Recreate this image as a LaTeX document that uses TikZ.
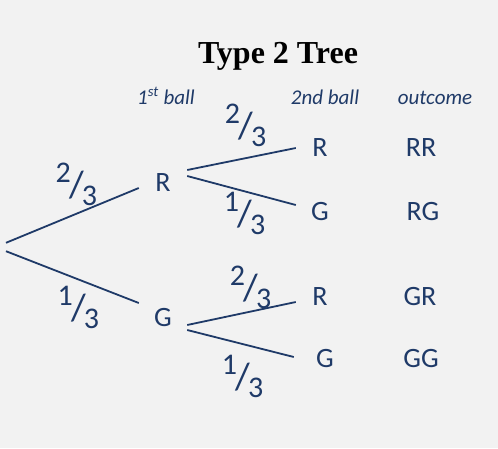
\documentclass[tikz,border=0pt]{standalone}
\usepackage{fontspec}
\setmainfont{Carlito}
\newfontfamily\titlefont{Liberation Serif}
\usepackage{xcolor}
\usetikzlibrary{positioning}

\definecolor{navy}{HTML}{1F3A68}
\definecolor{paper}{HTML}{F2F2F2}

% fraction written as ^a/_b, with a tall slash
\newcommand{\frc}[2]{\raisebox{0.4em}{#1}\kern-0.06em\raisebox{-0.1em}{\smash{\fontsize{38}{38}\selectfont /}}\kern-0.06em\raisebox{-0.37em}{#2}}

\begin{document}
\begin{tikzpicture}[
    x=1pt, y=-1pt,
    ball/.style={
        text=navy, font=\fontsize{28}{32}\selectfont,
        minimum width=48pt, inner sep=0pt
    },
    outcome/.style={text=navy, font=\fontsize{28}{32}\selectfont, inner sep=0pt},
    heading/.style={text=navy, font=\fontsize{21}{24}\selectfont\itshape, anchor=base},
    frac/.style={text=navy, font=\fontsize{30}{34}\selectfont, inner sep=0pt},
    branch/.style={draw=navy, line width=1.8pt}
]

% Background
\fill[paper] (0,0) rectangle (498,448);
\useasboundingbox (0,0) rectangle (498,448);

% Title and column headings
\node[anchor=base, font=\titlefont\bfseries\fontsize{32}{36}\selectfont] (title) at (278,63) {Type 2 Tree};
\node[heading] (h1) at (166,104) {1\textsuperscript{st} ball};
\node[heading] (h2) at (325,104) {2nd ball};
\node[heading] (h3) at (435,104) {outcome};

% Root
\node[inner sep=0pt, minimum width=0pt, minimum height=8pt] (root) at (6,247) {};

% First ball
\node[ball] (R1) at (163,183) {R};
\node[ball] (G1) at (163,318) {G};

% Second ball
\node[ball] (R2a) at (320,148) {R};
\node[ball] (G2a) at (320,212) {G};
\node[ball] (R2b) at (320,297) {R};
\node[ball] (G2b) at (325,359) {G};

% Outcomes
\node[outcome] (RR) at (421,148) {RR};
\node[outcome] (RG) at (423,212) {RG};
\node[outcome] (GR) at (420,297) {GR};
\node[outcome] (GG) at (421,359) {GG};

% Branches
\draw[branch] (root.north) -- node[frac, above=9pt, xshift=4pt] {\frc23} ([yshift=-5pt]R1.west);
\draw[branch] (root.south) -- node[frac, below=8pt, xshift=6pt] {\frc13} ([yshift=15pt]G1.west);
\draw[branch] ([yshift=13pt]R1.east) -- node[frac, above=11pt, xshift=4pt] {\frc23} (R2a.west);
\draw[branch] ([yshift=7pt]R1.east) -- node[frac, below=1pt, xshift=3pt] {\frc13} ([yshift=7pt]G2a.west);
\draw[branch] ([yshift=-7pt]G1.east) -- node[frac, above=4pt, xshift=9pt] {\frc23} ([yshift=-5pt]R2b.west);
\draw[branch] ([yshift=-12pt]G1.east) -- node[frac, below=11pt, xshift=2pt] {\frc13} ([xshift=-7pt,yshift=2pt]G2b.west);

\end{tikzpicture}
\end{document}
